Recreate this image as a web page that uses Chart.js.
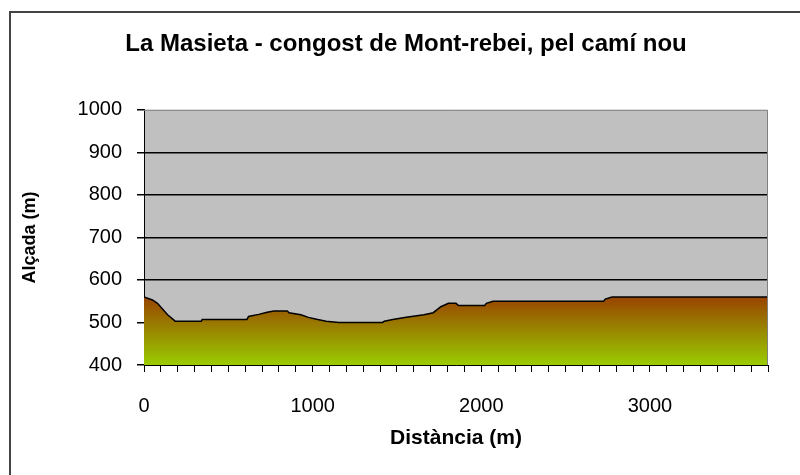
<!DOCTYPE html>
<html>
<head>
<meta charset="utf-8">
<script src="https://cdn.jsdelivr.net/npm/chart.js@4/dist/chart.umd.min.js"></script>
<style>
  html, body { margin: 0; padding: 0; background: #fff; }
  #wrap { width: 800px; height: 475px; }
</style>
</head>
<body>
<div id="wrap"><canvas id="perfil"></canvas></div>
<script>
// Dades del perfil (distància en m, alçada en m)
const distancia = [0, 50, 80, 140, 185, 340, 345, 610, 620, 680, 730, 770, 850, 860, 930, 975,
  1030, 1080, 1155, 1415, 1425, 1475, 1555, 1660, 1715, 1760, 1805, 1850, 1865, 2020, 2030,
  2070, 2725, 2735, 2775, 3700];
const alcada = [560, 553, 545, 518, 503, 503, 507, 507, 514, 519, 524, 527, 527, 523, 518, 512,
  507, 503, 500, 500, 503, 507, 512, 518, 523, 537, 545, 545, 540, 540, 545,
  550, 550, 555, 560, 560];
const titol = "La Masieta - congost de Mont-rebei, pel camí nou";
const titolX = "Distància (m)";
const titolY = "Alçada (m)";
const xMarques = [0, 1000, 2000, 3000];

const punts = distancia.map((d, i) => ({ x: d, y: alcada[i] }));
const font = "Arial, 'Liberation Sans'";

// Fons gris de l'àrea del gràfic i marc exterior
const fonsPlugin = {
  id: "fons",
  beforeDraw(chart) {
    const { ctx, chartArea: a } = chart;
    ctx.save();
    ctx.fillStyle = "#c0c0c0";
    ctx.fillRect(a.left, a.top, a.right - a.left, a.bottom - a.top);
    ctx.strokeStyle = "#444";
    ctx.lineWidth = 2;
    ctx.beginPath();
    ctx.moveTo(10, 475);
    ctx.lineTo(10, 12);
    ctx.lineTo(800, 12);
    ctx.stroke();
    ctx.restore();
  },
  afterDatasetsDraw(chart) {
    const { ctx, chartArea: a } = chart;
    ctx.save();
    ctx.strokeStyle = "#808080";
    ctx.lineWidth = 1;
    ctx.beginPath();
    ctx.moveTo(a.left, a.top + 0.5);
    ctx.lineTo(a.right - 0.5, a.top + 0.5);
    ctx.lineTo(a.right - 0.5, a.bottom);
    ctx.stroke();
    ctx.restore();
  }
};

function degradat(context) {
  const chart = context.chart;
  const { ctx, chartArea, scales } = chart;
  if (!chartArea) return "#99cc00";
  const top = scales.y.getPixelForValue(Math.max(...alcada));
  const g = ctx.createLinearGradient(0, top, 0, chartArea.bottom);
  g.addColorStop(0, "#994400");
  g.addColorStop(1, "#99cc00");
  return g;
}

new Chart(document.getElementById("perfil"), {
  type: "line",
  data: {
    datasets: [{
      label: titolY,
      data: punts,
      fill: "start",
      backgroundColor: degradat,
      borderColor: "#000",
      borderWidth: 1.5,
      pointRadius: 0,
      tension: 0,
    }],
  },
  options: {
    responsive: true,
    maintainAspectRatio: false,
    animation: false,
    layout: { padding: { left: 44, right: 32, top: 0, bottom: 0 } },
    plugins: {
      legend: { display: false },
      tooltip: { enabled: false },
      title: {
        display: true,
        text: titol,
        color: "#000",
        font: { family: font, size: 24, weight: "bold" },
        padding: { top: 30, bottom: 51 },
      },
    },
    scales: {
      x: {
        type: "linear",
        min: 0,
        max: 3700,
        afterFit(scale) { scale.height = 110; },
        border: { color: "#000", width: 1 },
        grid: { drawOnChartArea: false, drawTicks: true, tickLength: 7, tickColor: "#000" },
        ticks: {
          stepSize: 100,
          maxTicksLimit: 100,
          autoSkip: false,
          maxRotation: 0,
          padding: 22,
          color: "#000",
          font: { family: font, size: 20 },
          callback: (v) => (xMarques.includes(v) ? String(v) : ""),
        },
        title: {
          display: true,
          text: titolX,
          color: "#000",
          font: { family: font, size: 21, weight: "bold" },
          padding: { top: 0, bottom: 24 },
        },
      },
      y: {
        min: 400,
        max: 1000,
        afterFit(scale) { scale.width = 100; },
        border: { color: "#000", width: 1 },
        grid: {
          color: (c) => (c.tick && c.tick.value === 1000 ? "rgba(0,0,0,0)" : "#000"),
          lineWidth: 1.5,
          drawTicks: true,
          tickLength: 7,
          tickColor: "#000",
        },
        ticks: {
          stepSize: 100,
          padding: 15,
          color: "#000",
          font: { family: font, size: 20 },
          callback: (v) => String(v),
        },
        title: {
          display: true,
          text: titolY,
          color: "#000",
          font: { family: font, size: 18, weight: "bold" },
          padding: { top: -25, bottom: 0 },
        },
      },
    },
  },
  plugins: [fonsPlugin],
});
</script>
</body>
</html>
